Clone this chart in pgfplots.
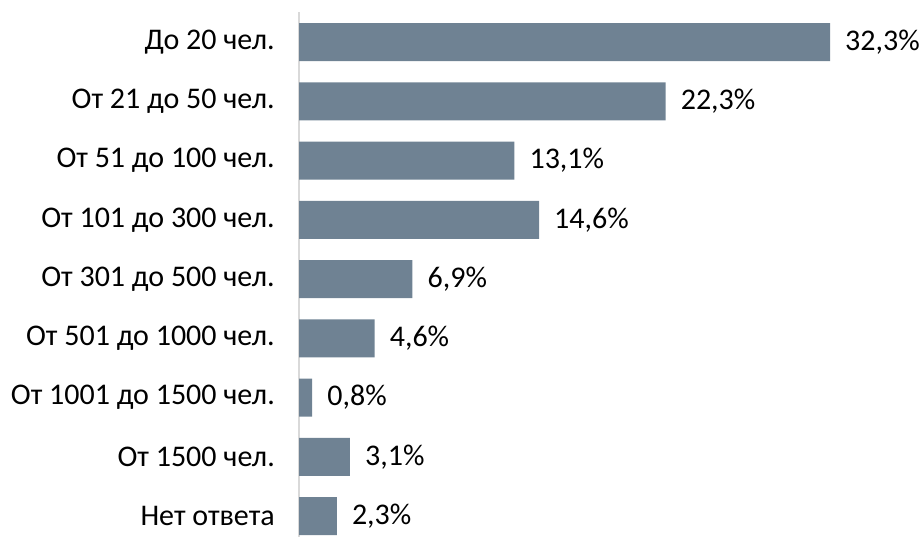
\documentclass[border=0pt]{standalone}
\usepackage{pgfplots}
\pgfplotsset{compat=1.18}
\usepackage{fontspec}
\setmainfont{Carlito}
\definecolor{barc}{HTML}{6F8293}
\definecolor{axc}{HTML}{D9D9D9}
\begin{document}
\fontsize{30pt}{36pt}\selectfont
\begin{tikzpicture}
\path[use as bounding box] (0,0) rectangle (923pt,536pt);
\begin{axis}[
  at={(299pt,-9.7pt)}, anchor=south west,
  scale only axis, width=531pt, height=533.25pt,
  xmin=0, xmax=32.3, ymin=-0.5, ymax=8.5,
  y dir=reverse,
  xbar, bar width=38pt,
  hide x axis,
  axis y line=left,
  y axis line style={-, draw=axc, line width=1.5pt},
  ytick={0,...,8},
  yticklabels={До 20 чел., От 21 до 50 чел., От 51 до 100 чел., От 101 до 300 чел., От 301 до 500 чел., От 501 до 1000 чел., От 1001 до 1500 чел., От 1500 чел., Нет ответа},
  major tick length=0pt,
  yticklabel style={inner sep=0pt, font=\fontsize{30pt}{36pt}\selectfont},
  yticklabel shift=24pt,
  nodes near coords={\pgfmathprintnumber[fixed,fixed zerofill,precision=1,use comma,assume math mode=true]{\pgfplotspointmeta}\%},
  nodes near coords style={anchor=west, inner sep=0pt, xshift=15pt, font=\fontsize{30pt}{36pt}\selectfont},
  point meta=x,
  clip=false,
]
\addplot[fill=barc, draw=none] coordinates {
(32.3,0) (22.3,1) (13.1,2) (14.6,3) (6.9,4) (4.6,5) (0.8,6) (3.1,7) (2.3,8)
};
\end{axis}
\end{tikzpicture}
\end{document}
